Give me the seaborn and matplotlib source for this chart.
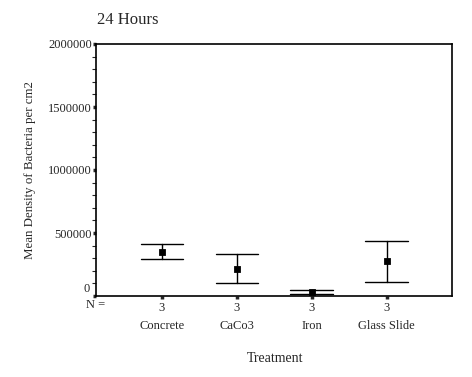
import pandas as pd
import numpy as np
import seaborn as sns
import matplotlib.pyplot as plt
from matplotlib.ticker import MultipleLocator, FuncFormatter
from matplotlib.transforms import blended_transform_factory

treatments = ["Concrete", "CaCo3", "Iron", "Glass Slide"]
means = [349000, 214000, 28000, 278000]
lower = [291000, 101000, 12000, 111000]
upper = [410000, 331000, 47000, 434000]
n_obs = ["3", "3", "3", "3"]

# long format: median of (lower, mean, upper) = mean, min-max = the interval
df = pd.DataFrame({
    "Treatment": np.repeat(treatments, 3),
    "value": np.ravel(np.column_stack([lower, means, upper])),
})

sns.set_style("white")
plt.rcParams["font.family"] = ["Liberation Serif", "DejaVu Serif"]

fig = plt.figure(figsize=(4.72, 3.77), dpi=100)
ax = fig.add_axes([96 / 472, 1 - 296 / 377, 356 / 472, 252 / 377])

sns.pointplot(
    data=df, x="Treatment", y="value", order=treatments,
    estimator="median", errorbar=("pi", 100),
    linestyle="none", markers="s", markersize=3.5, color="black",
    capsize=0.57, err_kws={"linewidth": 1.0}, ax=ax,
)

ax.set_xlim(-0.88, 3.87)
ax.set_ylim(0, 2000000)
ax.yaxis.set_major_locator(MultipleLocator(500000))
ax.yaxis.set_minor_locator(MultipleLocator(100000))
# "0" is drawn separately, a little above the baseline, clear of the N row
ax.yaxis.set_major_formatter(FuncFormatter(lambda v, p: f"{v:.0f}" if v > 0 else ""))
ax.tick_params(axis="y", which="major", left=True, length=2, width=2.5,
               labelsize=9, pad=1)
ax.tick_params(axis="y", which="minor", left=True, length=3, width=0.8)
ax.set_xticks(range(len(treatments)))
ax.set_xticklabels(n_obs)
ax.tick_params(axis="x", bottom=True, length=2, width=2.5, labelsize=9, pad=2)

for s in ax.spines.values():
    s.set_color("black")
    s.set_linewidth(1.2)

fig.text(90 / 472, 1 - 289 / 377, "0", ha="right", va="center", fontsize=9)

trans = blended_transform_factory(ax.transData, fig.transFigure)
for i, t in enumerate(treatments):
    ax.text(i, 1 - 326 / 377, t, transform=trans, ha="center", va="center",
            fontsize=9)
fig.text(96 / 472, 1 - 305 / 377, "N =", ha="center", va="center", fontsize=9)

ax.set_xlabel("")
ax.set_ylabel("")
fig.text(275 / 472, 1 - 358 / 377, "Treatment", ha="center", va="center",
         fontsize=10)
fig.text(30 / 472, 1 - 170 / 377, "Mean Density of Bacteria per cm2",
         rotation=90, ha="center", va="center", fontsize=9.3)
fig.text(97 / 472, 1 - 20 / 377, "24 Hours", ha="left", va="center",
         fontsize=12)

plt.savefig("out.png", dpi=100)
